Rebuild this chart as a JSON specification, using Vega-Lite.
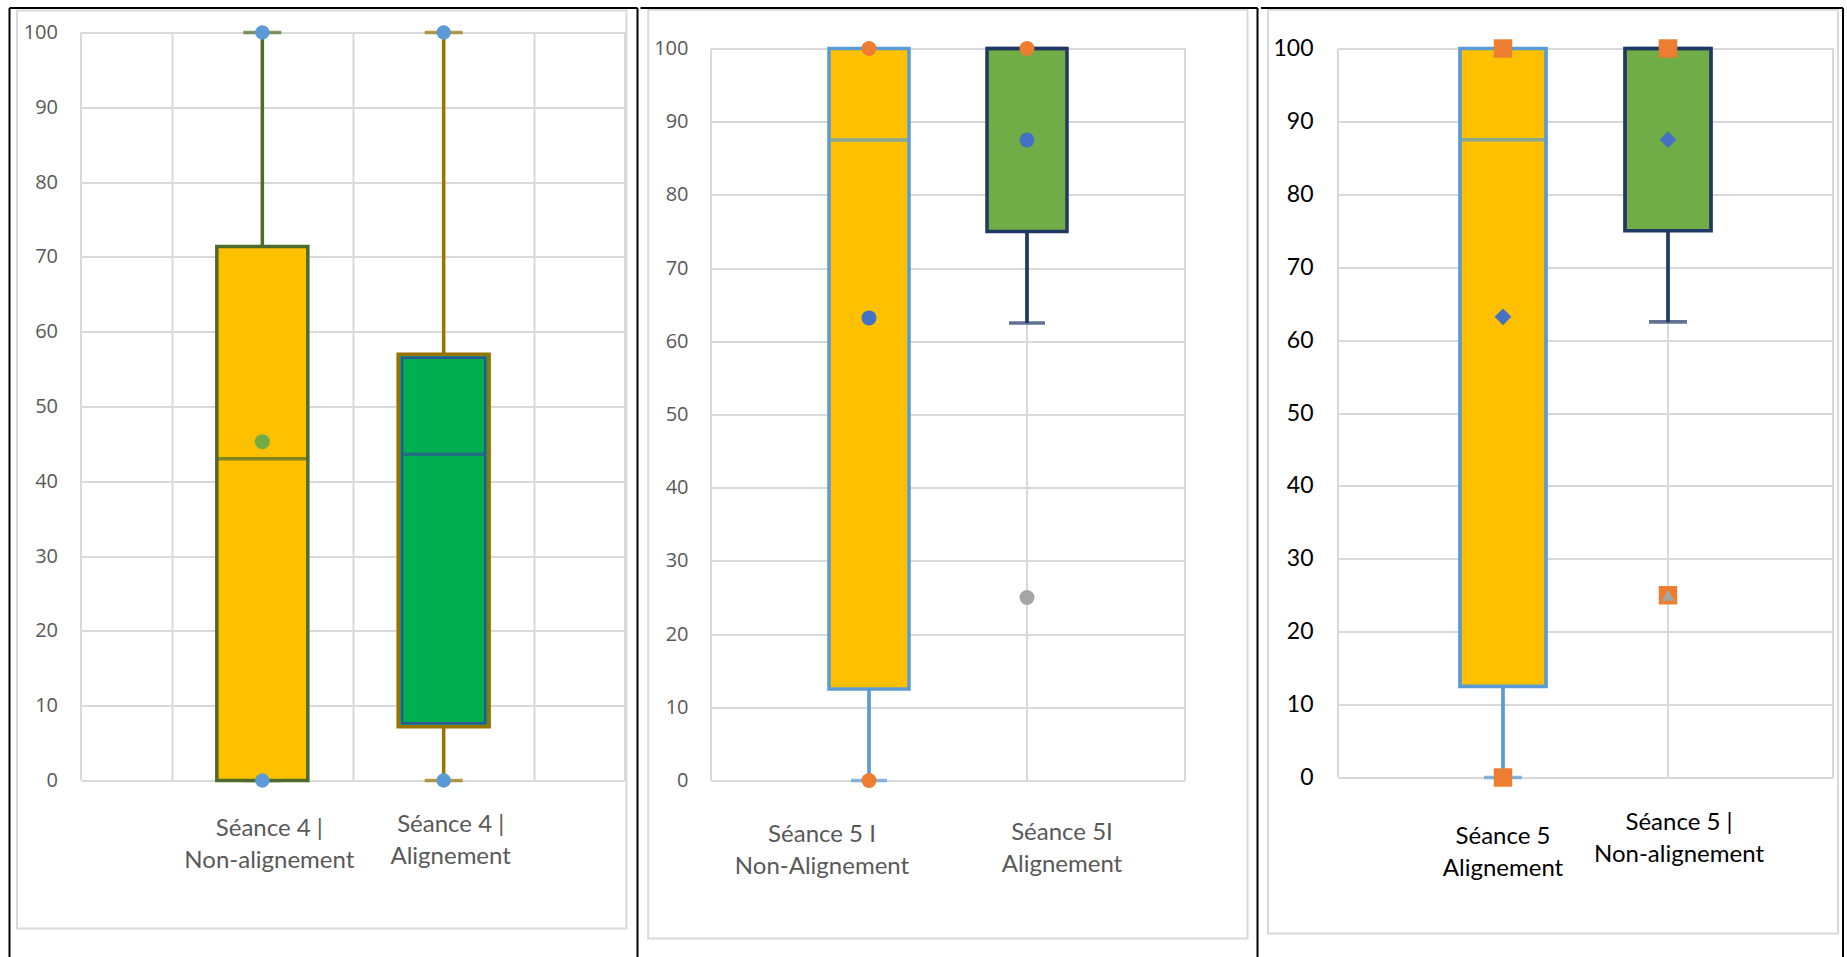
{
 "$schema": "https://vega.github.io/schema/vega-lite/v6.json",
 "background": "white",
 "padding": {"left": 8, "top": 6.5, "right": 0, "bottom": 0},
 "spacing": 0,
 "config": {"view": {"stroke": null}},
 "datasets": {
  "boxes": [
   {"panel": 1, "grp": "A", "cat": "Séance 4 |\nNon-alignement", "min": 0, "q1": 0, "median": 43, "q3": 71.4, "max": 100, "mean": 45.3},
   {"panel": 1, "grp": "B", "cat": "Séance 4 |\nAlignement", "min": 0, "q1": 7.2, "median": 43.6, "q3": 57, "max": 100, "mean": null},
   {"panel": 2, "grp": "A", "cat": "Séance 5 I\nNon-Alignement", "min": 0, "q1": 12.5, "median": 87.5, "q3": 100, "max": 100, "mean": 63.2},
   {"panel": 2, "grp": "B", "cat": "Séance 5I\nAlignement", "min": 62.5, "q1": 75, "median": 100, "q3": 100, "max": 100, "mean": 87.5},
   {"panel": 3, "grp": "A", "cat": "Séance 5\nAlignement", "min": 0, "q1": 12.5, "median": 87.5, "q3": 100, "max": 100, "mean": 63.2},
   {"panel": 3, "grp": "B", "cat": "Séance 5 |\nNon-alignement", "min": 62.5, "q1": 75, "median": 100, "q3": 100, "max": 100, "mean": 87.5}
  ],
  "points": [
   {"panel": 1, "cat": "Séance 4 |\nNon-alignement", "value": 100, "kind": "data"},
   {"panel": 1, "cat": "Séance 4 |\nNon-alignement", "value": 0, "kind": "data"},
   {"panel": 1, "cat": "Séance 4 |\nAlignement", "value": 100, "kind": "data"},
   {"panel": 1, "cat": "Séance 4 |\nAlignement", "value": 0, "kind": "data"},
   {"panel": 2, "cat": "Séance 5 I\nNon-Alignement", "value": 100, "kind": "data"},
   {"panel": 2, "cat": "Séance 5 I\nNon-Alignement", "value": 0, "kind": "data"},
   {"panel": 2, "cat": "Séance 5I\nAlignement", "value": 100, "kind": "data"},
   {"panel": 2, "cat": "Séance 5I\nAlignement", "value": 25, "kind": "outlier"},
   {"panel": 3, "cat": "Séance 5\nAlignement", "value": 100, "kind": "data"},
   {"panel": 3, "cat": "Séance 5\nAlignement", "value": 0, "kind": "data"},
   {"panel": 3, "cat": "Séance 5 |\nNon-alignement", "value": 100, "kind": "data"},
   {"panel": 3, "cat": "Séance 5 |\nNon-alignement", "value": 25, "kind": "data"},
   {"panel": 3, "cat": "Séance 5 |\nNon-alignement", "value": 25, "kind": "outlier"}
  ]
 },
 "hconcat": [
  {
   "width": 544, "height": 748,
   "resolve": {"scale": {"x": "independent", "y": "independent"}},
   "layer": [
    {"data": {"values": [{}]},
     "layer": [
      {"mark": {"type": "rect", "fill": "#ffffff", "fillOpacity": 0, "stroke": "#D9D9D9", "strokeWidth": 2},
       "encoding": {"x": {"datum": -0.3529, "type": "quantitative", "scale": {"domain": [0, 3], "nice": false}, "axis": null}, "x2": {"datum": 3.0083},
                    "y": {"datum": 102.94, "type": "quantitative", "scale": {"domain": [0, 100], "nice": false}, "axis": null}, "y2": {"datum": -19.79}}},
      {"mark": {"type": "rule", "color": "#000000", "strokeWidth": 2},
       "encoding": {"x": {"datum": -0.3943, "type": "quantitative", "scale": {"domain": [0, 3], "nice": false}, "axis": null}, "x2": {"datum": 3.069},
                    "y": {"datum": 103.28, "type": "quantitative", "scale": {"domain": [0, 100], "nice": false}, "axis": null}, "y2": {"datum": 103.28}}},
      {"mark": {"type": "rule", "color": "#000000", "strokeWidth": 2},
       "encoding": {"x": {"datum": -0.3943, "type": "quantitative", "scale": {"domain": [0, 3], "nice": false}, "axis": null}, "x2": {"datum": -0.3943},
                    "y": {"datum": 103.28, "type": "quantitative", "scale": {"domain": [0, 100], "nice": false}, "axis": null}, "y2": {"datum": -23.66}}},
      {"mark": {"type": "rule", "color": "#000000", "strokeWidth": 2},
       "encoding": {"x": {"datum": 3.069, "type": "quantitative", "scale": {"domain": [0, 3], "nice": false}, "axis": null}, "x2": {"datum": 3.069},
                    "y": {"datum": 103.28, "type": "quantitative", "scale": {"domain": [0, 100], "nice": false}, "axis": null}, "y2": {"datum": -23.66}}},
      {"mark": {"type": "rule", "color": "#D9D9D9", "strokeWidth": 2},
       "encoding": {"x": {"datum": 0, "type": "quantitative", "scale": {"domain": [0, 3], "nice": false}, "axis": null}, "x2": {"datum": 0},
                    "y": {"datum": 0, "type": "quantitative", "scale": {"domain": [0, 100], "nice": false}, "axis": null}, "y2": {"datum": 100}}},
      {"mark": {"type": "rule", "color": "#D9D9D9", "strokeWidth": 2},
       "encoding": {"x": {"datum": 3, "type": "quantitative", "scale": {"domain": [0, 3], "nice": false}, "axis": null}, "x2": {"datum": 3},
                    "y": {"datum": 0, "type": "quantitative", "scale": {"domain": [0, 100], "nice": false}, "axis": null}, "y2": {"datum": 100}}}
     ]},
    {"encoding": {"x": {"field": "cat", "type": "nominal", "title": null, "sort": null,
       "scale": {"type": "band", "domain": ["Séance 4 |\nNon-alignement", "Séance 4 |\nAlignement"], "paddingInner": 0, "paddingOuter": 0.5},
       "axis": {"orient": "bottom", "domain": false, "ticks": false, "tickSize": 0, "labels": false, "grid": true, "gridColor": "#D9D9D9", "gridWidth": 2, "tickBand": "extent", "zindex": 0}}},
     "layer": [
      {"data": {"name": "boxes"}, "transform": [{"filter": "datum.panel == 1"}],
       "mark": {"type": "rule", "strokeWidth": 3.5},
       "encoding": {"y": {"field": "min", "type": "quantitative", "title": null, "scale": {"domain": [0, 100], "nice": false},
                          "axis": {"values": [0, 10, 20, 30, 40, 50, 60, 70, 80, 90, 100], "domain": false, "ticks": false, "tickSize": 0, "grid": true, "gridColor": "#D9D9D9", "gridWidth": 2,
                                   "labelFont": "Open Sans", "labelFontSize": 20, "labelColor": "#595959", "labelPadding": 23.5, "zindex": 0}},
                    "y2": {"field": "max"},
                    "color": {"condition": {"test": "datum.grp == 'A'", "value": "#4D6B2B"}, "value": "#9A7300"}}},
      {"data": {"name": "boxes"}, "transform": [{"filter": "datum.panel == 1"}],
       "mark": {"type": "tick", "orient": "horizontal", "size": 38, "thickness": 3.5},
       "encoding": {"y": {"field": "min", "type": "quantitative", "scale": {"domain": [0, 100], "nice": false}},
                    "color": {"condition": {"test": "datum.grp == 'A'", "value": "#4D6B2B"}, "value": "#9A7300"}}},
      {"data": {"name": "boxes"}, "transform": [{"filter": "datum.panel == 1"}],
       "mark": {"type": "tick", "orient": "horizontal", "size": 38, "thickness": 3.5},
       "encoding": {"y": {"field": "max", "type": "quantitative", "scale": {"domain": [0, 100], "nice": false}},
                    "color": {"condition": {"test": "datum.grp == 'A'", "value": "#4D6B2B"}, "value": "#9A7300"}}},
      {"data": {"name": "boxes"}, "transform": [{"filter": "datum.panel == 1"}],
       "mark": {"type": "bar", "width": 91, "strokeWidth": 3.5},
       "encoding": {"y": {"field": "q1", "type": "quantitative", "scale": {"domain": [0, 100], "nice": false}}, "y2": {"field": "q3"},
                    "fill": {"condition": {"test": "datum.grp == 'A'", "value": "#FFC000"}, "value": "#00B050"},
                    "stroke": {"condition": {"test": "datum.grp == 'A'", "value": "#4D6B2B"}, "value": "#9A7300"}}},
      {"data": {"name": "boxes"}, "transform": [{"filter": "datum.panel == 1 && datum.grp == 'B'"}],
       "mark": {"type": "bar", "width": 83, "strokeWidth": 2.5, "yOffset": -3.5, "y2Offset": 3.5, "fill": "#00B050", "stroke": "#2F5597"},
       "encoding": {"y": {"field": "q1", "type": "quantitative", "scale": {"domain": [0, 100], "nice": false}}, "y2": {"field": "q3"}}},
      {"data": {"name": "boxes"}, "transform": [{"filter": "datum.panel == 1"}],
       "mark": {"type": "tick", "orient": "horizontal", "thickness": 3.5},
       "encoding": {"y": {"field": "median", "type": "quantitative", "scale": {"domain": [0, 100], "nice": false}},
                    "size": {"condition": {"test": "datum.grp == 'A'", "value": 91}, "value": 84},
                    "color": {"condition": {"test": "datum.grp == 'A'", "value": "#4D6B2B"}, "value": "#2F5597"}}},
      {"data": {"name": "boxes"}, "transform": [{"filter": "datum.panel == 1 && isValid(datum.mean)"}],
       "mark": {"type": "point", "filled": true, "shape": "circle", "size": 225, "opacity": 1, "color": "#70AD47"},
       "encoding": {"y": {"field": "mean", "type": "quantitative", "scale": {"domain": [0, 100], "nice": false}}}},
      {"data": {"name": "points"}, "transform": [{"filter": "datum.panel == 1"}],
       "mark": {"type": "point", "filled": true, "shape": "circle", "size": 210, "opacity": 1, "color": "#5B9BD5"},
       "encoding": {"y": {"field": "value", "type": "quantitative", "scale": {"domain": [0, 100], "nice": false}}}},
      {"data": {"name": "boxes"}, "transform": [{"filter": "datum.panel == 1 && datum.grp == 'A'"}],
       "mark": {"type": "text", "font": "Lato", "fontSize": 24, "color": "#595959", "align": "center", "baseline": "alphabetic", "lineBreak": "\n", "lineHeight": 32, "dx": 7, "dy": 55},
       "encoding": {"y": {"datum": 0, "type": "quantitative", "scale": {"domain": [0, 100], "nice": false}}, "text": {"field": "cat"}}},
      {"data": {"name": "boxes"}, "transform": [{"filter": "datum.panel == 1 && datum.grp == 'B'"}],
       "mark": {"type": "text", "font": "Lato", "fontSize": 24, "color": "#595959", "align": "center", "baseline": "alphabetic", "lineBreak": "\n", "lineHeight": 32, "dx": 7, "dy": 51},
       "encoding": {"y": {"datum": 0, "type": "quantitative", "scale": {"domain": [0, 100], "nice": false}}, "text": {"field": "cat"}}}
     ]}
   ]
  },
  {
   "width": 474, "height": 748,
   "resolve": {"scale": {"x": "independent", "y": "independent"}},
   "layer": [
    {"data": {"values": [{}]},
     "layer": [
      {"mark": {"type": "rect", "fill": "#ffffff", "fillOpacity": 0, "stroke": "#D9D9D9", "strokeWidth": 2},
       "encoding": {"x": {"datum": -0.3975, "type": "quantitative", "scale": {"domain": [0, 3], "nice": false}, "axis": null}, "x2": {"datum": 3.3956},
                    "y": {"datum": 105.29, "type": "quantitative", "scale": {"domain": [0, 102.186], "nice": false}, "axis": null}, "y2": {"datum": -21.58}}},
      {"mark": {"type": "rule", "color": "#000000", "strokeWidth": 2},
       "encoding": {"x": {"datum": -0.4462, "type": "quantitative", "scale": {"domain": [0, 3], "nice": false}, "axis": null}, "x2": {"datum": 3.4589},
                    "y": {"datum": 105.53, "type": "quantitative", "scale": {"domain": [0, 102.186], "nice": false}, "axis": null}, "y2": {"datum": 105.53}}},
      {"mark": {"type": "rule", "color": "#000000", "strokeWidth": 2},
       "encoding": {"x": {"datum": 3.4589, "type": "quantitative", "scale": {"domain": [0, 3], "nice": false}, "axis": null}, "x2": {"datum": 3.4589},
                    "y": {"datum": 105.53, "type": "quantitative", "scale": {"domain": [0, 102.186], "nice": false}, "axis": null}, "y2": {"datum": -24.18}}},
      {"mark": {"type": "rule", "color": "#D9D9D9", "strokeWidth": 2},
       "encoding": {"x": {"datum": 0, "type": "quantitative", "scale": {"domain": [0, 3], "nice": false}, "axis": null}, "x2": {"datum": 0},
                    "y": {"datum": 0, "type": "quantitative", "scale": {"domain": [0, 102.186], "nice": false}, "axis": null}, "y2": {"datum": 100}}},
      {"mark": {"type": "rule", "color": "#D9D9D9", "strokeWidth": 2},
       "encoding": {"x": {"datum": 1, "type": "quantitative", "scale": {"domain": [0, 3], "nice": false}, "axis": null}, "x2": {"datum": 1},
                    "y": {"datum": 0, "type": "quantitative", "scale": {"domain": [0, 102.186], "nice": false}, "axis": null}, "y2": {"datum": 100}}},
      {"mark": {"type": "rule", "color": "#D9D9D9", "strokeWidth": 2},
       "encoding": {"x": {"datum": 2, "type": "quantitative", "scale": {"domain": [0, 3], "nice": false}, "axis": null}, "x2": {"datum": 2},
                    "y": {"datum": 0, "type": "quantitative", "scale": {"domain": [0, 102.186], "nice": false}, "axis": null}, "y2": {"datum": 100}}},
      {"mark": {"type": "rule", "color": "#D9D9D9", "strokeWidth": 2},
       "encoding": {"x": {"datum": 3, "type": "quantitative", "scale": {"domain": [0, 3], "nice": false}, "axis": null}, "x2": {"datum": 3},
                    "y": {"datum": 0, "type": "quantitative", "scale": {"domain": [0, 102.186], "nice": false}, "axis": null}, "y2": {"datum": 100}}}
     ]},
    {"encoding": {"x": {"field": "cat", "type": "nominal", "title": null, "sort": null,
       "scale": {"type": "band", "domain": ["Séance 5 I\nNon-Alignement", "Séance 5I\nAlignement"], "paddingInner": 0, "paddingOuter": 0.5},
       "axis": null}},
     "layer": [
      {"data": {"name": "boxes"}, "transform": [{"filter": "datum.panel == 2"}],
       "mark": {"type": "rule", "strokeWidth": 3.7},
       "encoding": {"y": {"field": "min", "type": "quantitative", "title": null, "scale": {"domain": [0, 102.186], "nice": false},
                          "axis": {"values": [0, 10, 20, 30, 40, 50, 60, 70, 80, 90, 100], "domain": false, "ticks": false, "tickSize": 0, "grid": true, "gridColor": "#D9D9D9", "gridWidth": 2,
                                   "labelFont": "Open Sans", "labelFontSize": 20, "labelColor": "#595959", "labelPadding": 23, "zindex": 0}},
                    "y2": {"field": "max"},
                    "color": {"condition": {"test": "datum.grp == 'A'", "value": "#5B9BD5"}, "value": "#203864"}}},
      {"data": {"name": "boxes"}, "transform": [{"filter": "datum.panel == 2"}],
       "mark": {"type": "tick", "orient": "horizontal", "size": 36, "thickness": 3.7},
       "encoding": {"y": {"field": "min", "type": "quantitative", "scale": {"domain": [0, 102.186], "nice": false}},
                    "color": {"condition": {"test": "datum.grp == 'A'", "value": "#5B9BD5"}, "value": "#203864"}}},
      {"data": {"name": "boxes"}, "transform": [{"filter": "datum.panel == 2"}],
       "mark": {"type": "bar", "width": 80, "strokeWidth": 3.5},
       "encoding": {"y": {"field": "q1", "type": "quantitative", "scale": {"domain": [0, 102.186], "nice": false}}, "y2": {"field": "q3"},
                    "fill": {"condition": {"test": "datum.grp == 'A'", "value": "#FFC000"}, "value": "#70AD47"},
                    "stroke": {"condition": {"test": "datum.grp == 'A'", "value": "#5B9BD5"}, "value": "#203864"}}},
      {"data": {"name": "boxes"}, "transform": [{"filter": "datum.panel == 2"}],
       "mark": {"type": "tick", "orient": "horizontal", "size": 80, "thickness": 3.5},
       "encoding": {"y": {"field": "median", "type": "quantitative", "scale": {"domain": [0, 102.186], "nice": false}},
                    "color": {"condition": {"test": "datum.grp == 'A'", "value": "#5B9BD5"}, "value": "#203864"}}},
      {"data": {"name": "boxes"}, "transform": [{"filter": "datum.panel == 2 && isValid(datum.mean)"}],
       "mark": {"type": "point", "filled": true, "shape": "circle", "size": 225, "opacity": 1, "color": "#4472C4"},
       "encoding": {"y": {"field": "mean", "type": "quantitative", "scale": {"domain": [0, 102.186], "nice": false}}}},
      {"data": {"name": "points"}, "transform": [{"filter": "datum.panel == 2"}],
       "mark": {"type": "point", "filled": true, "shape": "circle", "size": 225, "opacity": 1},
       "encoding": {"y": {"field": "value", "type": "quantitative", "scale": {"domain": [0, 102.186], "nice": false}},
                    "color": {"condition": {"test": "datum.kind == 'outlier'", "value": "#A5A5A5"}, "value": "#ED7D31"}}},
      {"data": {"name": "boxes"}, "transform": [{"filter": "datum.panel == 2 && datum.grp == 'A'"}],
       "mark": {"type": "text", "font": "Lato", "fontSize": 24, "color": "#595959", "align": "center", "baseline": "alphabetic", "lineBreak": "\n", "lineHeight": 32, "dx": -47, "dy": 61.7},
       "encoding": {"y": {"datum": 0, "type": "quantitative", "scale": {"domain": [0, 102.186], "nice": false}}, "text": {"field": "cat"}}},
      {"data": {"name": "boxes"}, "transform": [{"filter": "datum.panel == 2 && datum.grp == 'B'"}],
       "mark": {"type": "text", "font": "Lato", "fontSize": 24, "color": "#595959", "align": "center", "baseline": "alphabetic", "lineBreak": "\n", "lineHeight": 32, "dx": 35, "dy": 59.3},
       "encoding": {"y": {"datum": 0, "type": "quantitative", "scale": {"domain": [0, 102.186], "nice": false}}, "text": {"field": "cat"}}}
     ]}
   ]
  },
  {
   "width": 495, "height": 748,
   "resolve": {"scale": {"x": "independent", "y": "independent"}},
   "layer": [
    {"data": {"values": [{}]},
     "layer": [
      {"mark": {"type": "rect", "fill": "#ffffff", "fillOpacity": 0, "stroke": "#D9D9D9", "strokeWidth": 2},
       "encoding": {"x": {"datum": -0.4242, "type": "quantitative", "scale": {"domain": [0, 3], "nice": false}, "axis": null}, "x2": {"datum": 3.0303},
                    "y": {"datum": 105.3, "type": "quantitative", "scale": {"domain": [-0.4115, 102.195], "nice": false}, "axis": null}, "y2": {"datum": -21.4}}},
      {"mark": {"type": "rule", "color": "#000000", "strokeWidth": 2},
       "encoding": {"x": {"datum": -0.4667, "type": "quantitative", "scale": {"domain": [0, 3], "nice": false}, "axis": null}, "x2": {"datum": 3.0606},
                    "y": {"datum": 105.56, "type": "quantitative", "scale": {"domain": [-0.4115, 102.195], "nice": false}, "axis": null}, "y2": {"datum": 105.56}}},
      {"mark": {"type": "rule", "color": "#000000", "strokeWidth": 2},
       "encoding": {"x": {"datum": 3.0606, "type": "quantitative", "scale": {"domain": [0, 3], "nice": false}, "axis": null}, "x2": {"datum": 3.0606},
                    "y": {"datum": 105.56, "type": "quantitative", "scale": {"domain": [-0.4115, 102.195], "nice": false}, "axis": null}, "y2": {"datum": -24.69}}},
      {"mark": {"type": "rule", "color": "#D9D9D9", "strokeWidth": 2},
       "encoding": {"x": {"datum": 0, "type": "quantitative", "scale": {"domain": [0, 3], "nice": false}, "axis": null}, "x2": {"datum": 0},
                    "y": {"datum": 0, "type": "quantitative", "scale": {"domain": [-0.4115, 102.195], "nice": false}, "axis": null}, "y2": {"datum": 100}}},
      {"mark": {"type": "rule", "color": "#D9D9D9", "strokeWidth": 2},
       "encoding": {"x": {"datum": 1, "type": "quantitative", "scale": {"domain": [0, 3], "nice": false}, "axis": null}, "x2": {"datum": 1},
                    "y": {"datum": 0, "type": "quantitative", "scale": {"domain": [-0.4115, 102.195], "nice": false}, "axis": null}, "y2": {"datum": 100}}},
      {"mark": {"type": "rule", "color": "#D9D9D9", "strokeWidth": 2},
       "encoding": {"x": {"datum": 2, "type": "quantitative", "scale": {"domain": [0, 3], "nice": false}, "axis": null}, "x2": {"datum": 2},
                    "y": {"datum": 0, "type": "quantitative", "scale": {"domain": [-0.4115, 102.195], "nice": false}, "axis": null}, "y2": {"datum": 100}}},
      {"mark": {"type": "rule", "color": "#D9D9D9", "strokeWidth": 2},
       "encoding": {"x": {"datum": 3, "type": "quantitative", "scale": {"domain": [0, 3], "nice": false}, "axis": null}, "x2": {"datum": 3},
                    "y": {"datum": 0, "type": "quantitative", "scale": {"domain": [-0.4115, 102.195], "nice": false}, "axis": null}, "y2": {"datum": 100}}}
     ]},
    {"encoding": {"x": {"field": "cat", "type": "nominal", "title": null, "sort": null,
       "scale": {"type": "band", "domain": ["Séance 5\nAlignement", "Séance 5 |\nNon-alignement"], "paddingInner": 0, "paddingOuter": 0.5},
       "axis": null}},
     "layer": [
      {"data": {"name": "boxes"}, "transform": [{"filter": "datum.panel == 3"}],
       "mark": {"type": "rule", "strokeWidth": 3.7},
       "encoding": {"y": {"field": "min", "type": "quantitative", "title": null, "scale": {"domain": [-0.4115, 102.195], "nice": false},
                          "axis": {"values": [0, 10, 20, 30, 40, 50, 60, 70, 80, 90, 100], "domain": false, "ticks": false, "tickSize": 0, "grid": true, "gridColor": "#D9D9D9", "gridWidth": 2,
                                   "labelFont": "Lato", "labelFontSize": 23, "labelColor": "#000000", "labelPadding": 25, "zindex": 0}},
                    "y2": {"field": "max"},
                    "color": {"condition": {"test": "datum.grp == 'A'", "value": "#5B9BD5"}, "value": "#203864"}}},
      {"data": {"name": "boxes"}, "transform": [{"filter": "datum.panel == 3"}],
       "mark": {"type": "tick", "orient": "horizontal", "size": 38, "thickness": 3.7},
       "encoding": {"y": {"field": "min", "type": "quantitative", "scale": {"domain": [-0.4115, 102.195], "nice": false}},
                    "color": {"condition": {"test": "datum.grp == 'A'", "value": "#5B9BD5"}, "value": "#203864"}}},
      {"data": {"name": "boxes"}, "transform": [{"filter": "datum.panel == 3"}],
       "mark": {"type": "bar", "width": 86, "strokeWidth": 3.7},
       "encoding": {"y": {"field": "q1", "type": "quantitative", "scale": {"domain": [-0.4115, 102.195], "nice": false}}, "y2": {"field": "q3"},
                    "fill": {"condition": {"test": "datum.grp == 'A'", "value": "#FFC000"}, "value": "#70AD47"},
                    "stroke": {"condition": {"test": "datum.grp == 'A'", "value": "#5B9BD5"}, "value": "#203864"}}},
      {"data": {"name": "boxes"}, "transform": [{"filter": "datum.panel == 3"}],
       "mark": {"type": "tick", "orient": "horizontal", "size": 86, "thickness": 3.5},
       "encoding": {"y": {"field": "median", "type": "quantitative", "scale": {"domain": [-0.4115, 102.195], "nice": false}},
                    "color": {"condition": {"test": "datum.grp == 'A'", "value": "#5B9BD5"}, "value": "#203864"}}},
      {"data": {"name": "boxes"}, "transform": [{"filter": "datum.panel == 3 && isValid(datum.mean)"}],
       "mark": {"type": "point", "filled": true, "shape": "diamond", "size": 280, "opacity": 1, "color": "#4472C4"},
       "encoding": {"y": {"field": "mean", "type": "quantitative", "scale": {"domain": [-0.4115, 102.195], "nice": false}}}},
      {"data": {"name": "points"}, "transform": [{"filter": "datum.panel == 3"}],
       "mark": {"type": "point", "filled": true, "opacity": 1},
       "encoding": {"y": {"field": "value", "type": "quantitative", "scale": {"domain": [-0.4115, 102.195], "nice": false}},
                    "shape": {"condition": {"test": "datum.kind == 'outlier'", "value": "triangle-up"}, "value": "square"},
                    "size": {"condition": {"test": "datum.kind == 'outlier'", "value": 160}, "value": 340},
                    "color": {"condition": {"test": "datum.kind == 'outlier'", "value": "#A5A5A5"}, "value": "#ED7D31"}}},
      {"data": {"name": "boxes"}, "transform": [{"filter": "datum.panel == 3 && datum.grp == 'A'"}],
       "mark": {"type": "text", "font": "Lato", "fontSize": 24, "color": "#000000", "align": "center", "baseline": "alphabetic", "lineBreak": "\n", "lineHeight": 32, "dx": 0, "dy": 66},
       "encoding": {"y": {"datum": 0, "type": "quantitative", "scale": {"domain": [-0.4115, 102.195], "nice": false}}, "text": {"field": "cat"}}},
      {"data": {"name": "boxes"}, "transform": [{"filter": "datum.panel == 3 && datum.grp == 'B'"}],
       "mark": {"type": "text", "font": "Lato", "fontSize": 24, "color": "#000000", "align": "center", "baseline": "alphabetic", "lineBreak": "\n", "lineHeight": 32, "dx": 11, "dy": 52},
       "encoding": {"y": {"datum": 0, "type": "quantitative", "scale": {"domain": [-0.4115, 102.195], "nice": false}}, "text": {"field": "cat"}}}
     ]}
   ]
  }
 ]
}
